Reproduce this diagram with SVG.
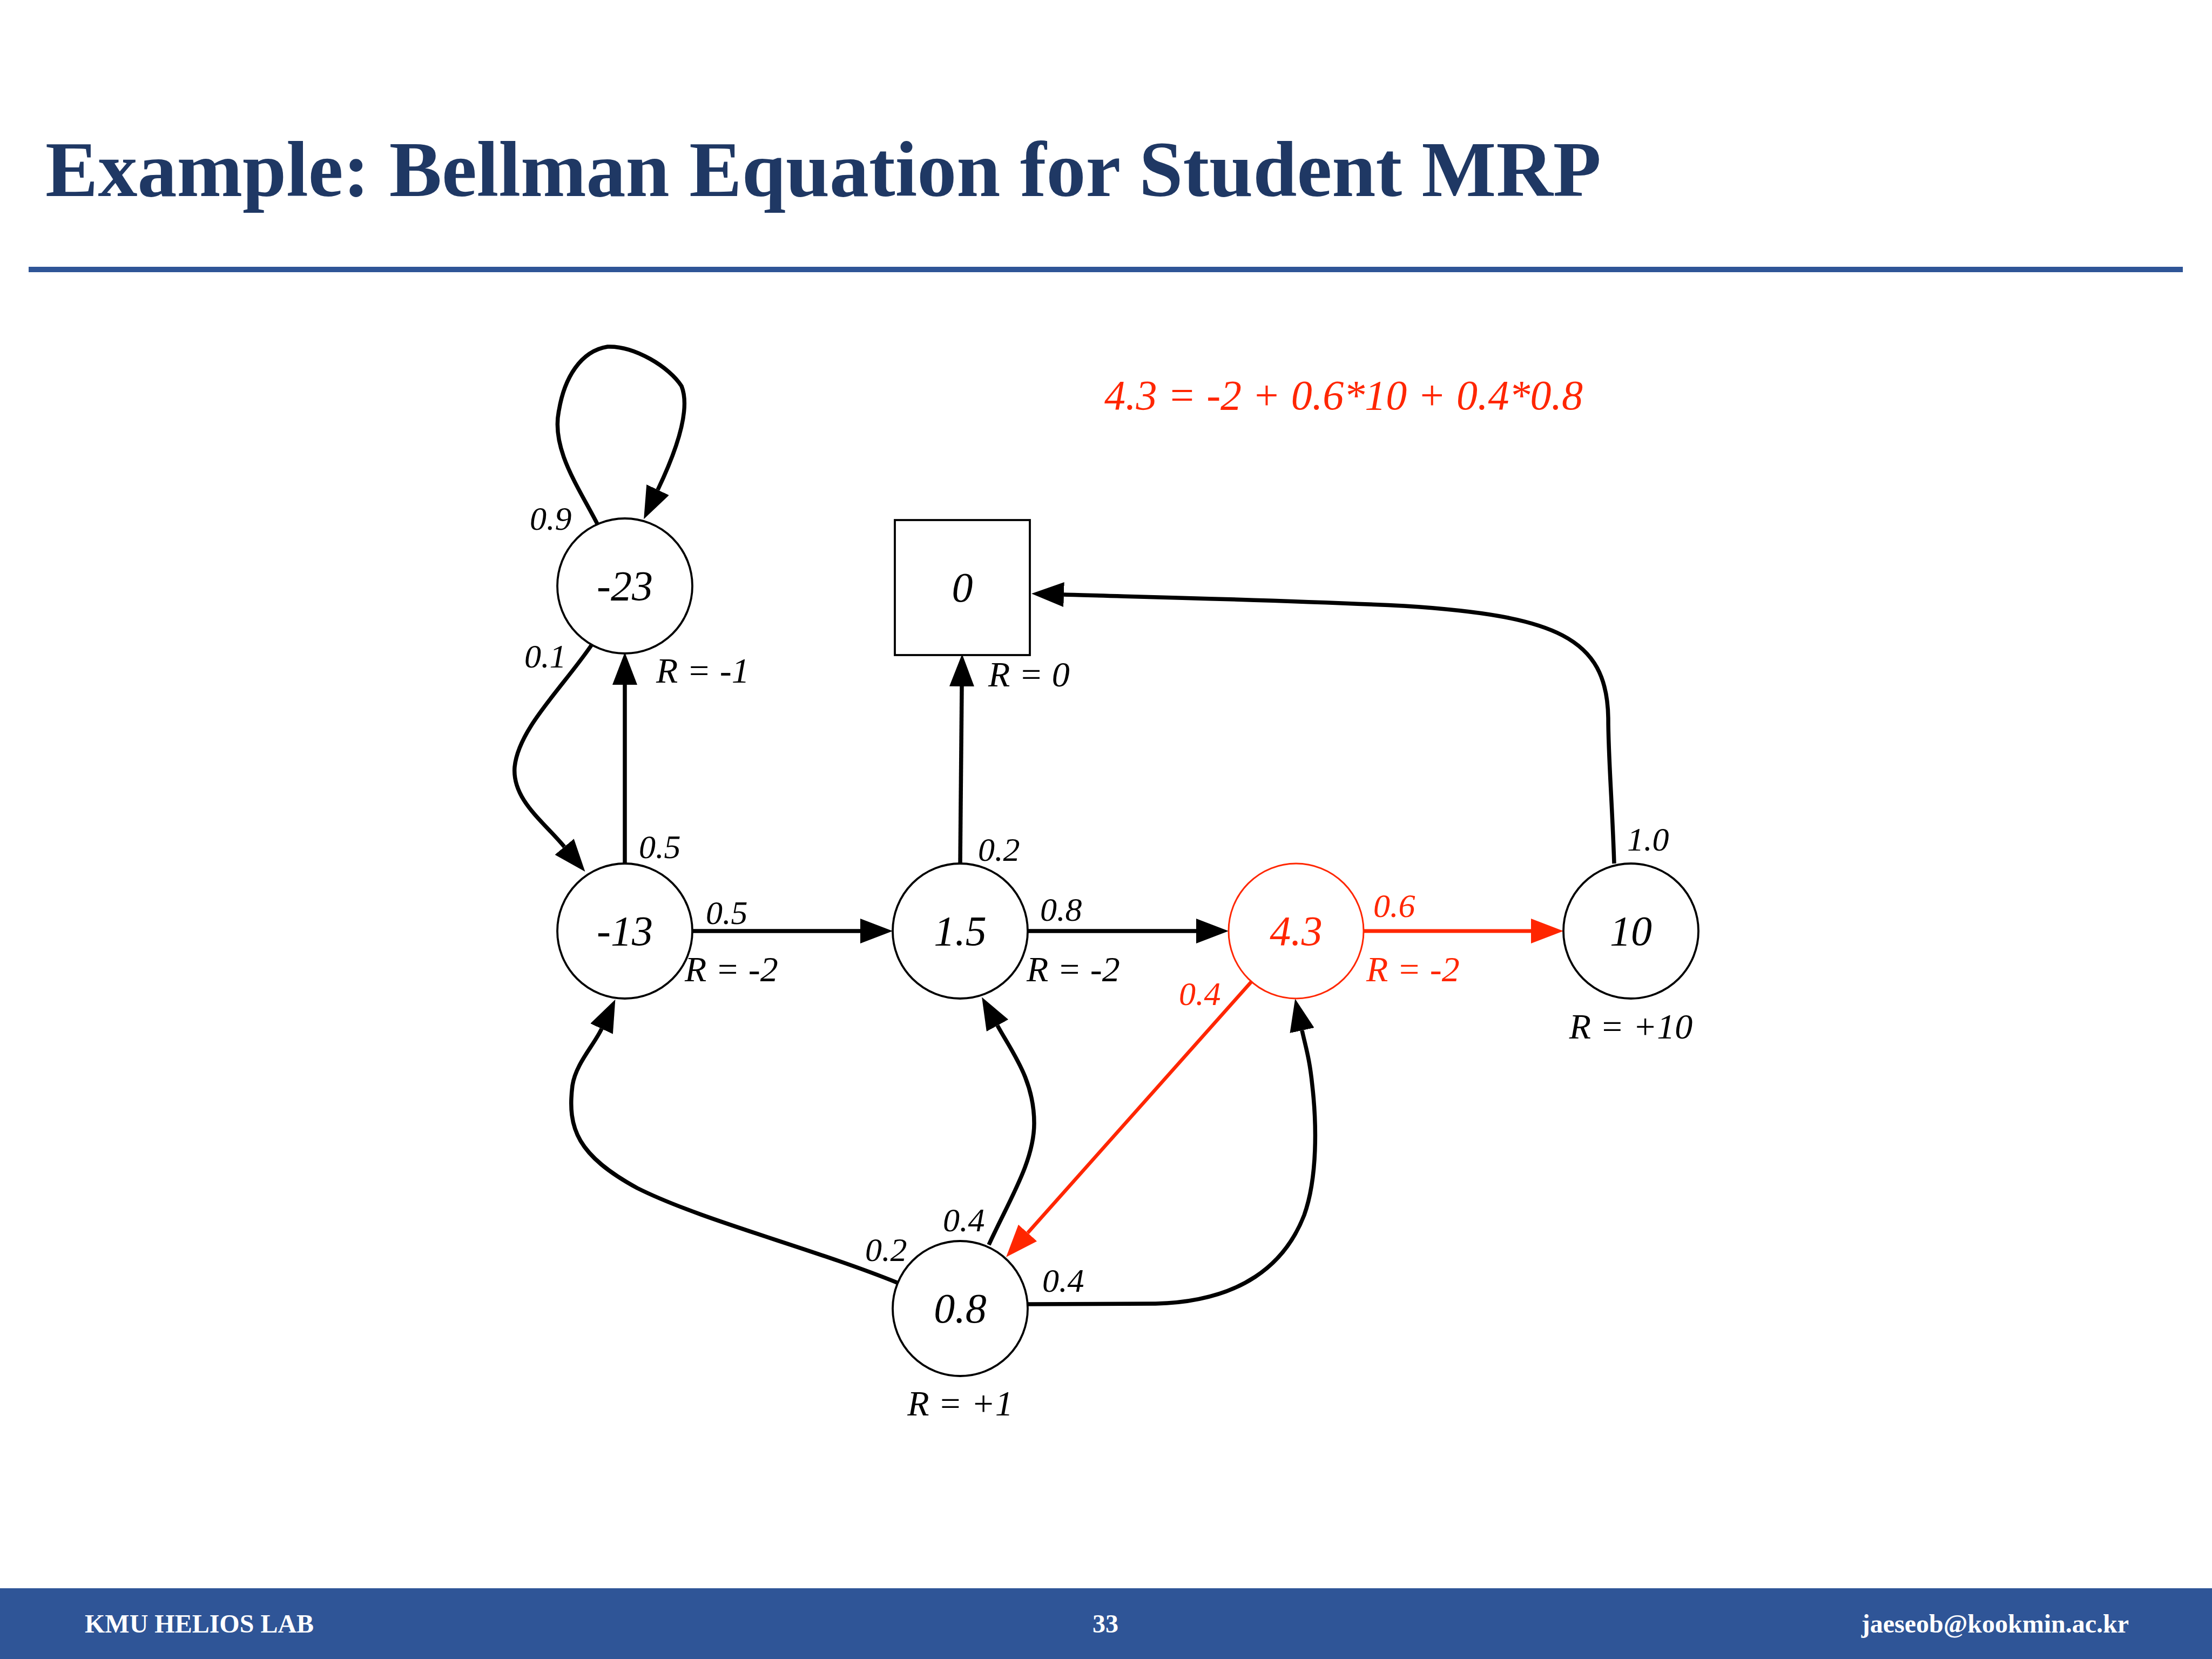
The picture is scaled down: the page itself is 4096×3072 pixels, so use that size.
<svg xmlns="http://www.w3.org/2000/svg" width="4096" height="3072" viewBox="0 0 4096 3072">
<style>
.node{fill:#fff;stroke:#000;stroke-width:3.8}
.red .node{stroke:#ff2600;stroke-width:3}
.nl{font-family:"Liberation Serif","Times New Roman",serif;font-style:italic;font-size:78px;text-anchor:middle;fill:#000}
.el{font-family:"Liberation Serif","Times New Roman",serif;font-style:italic;font-size:62px;fill:#000}
.rl{font-family:"Liberation Serif","Times New Roman",serif;font-style:italic;font-size:66px;fill:#000}
.r{fill:#ff2600}
.e{fill:none;stroke:#000;stroke-width:7.5;marker-end:url(#ah)}
.er{fill:none;stroke:#ff2600;stroke-width:7;marker-end:url(#ahr)}
.foot{font-family:"Liberation Serif","Times New Roman",serif;font-weight:bold;font-size:48px;fill:#fff}
</style>
<defs>
<marker id="ah" markerUnits="userSpaceOnUse" viewBox="0 0 60 46" markerWidth="60" markerHeight="46" refX="0" refY="23" orient="auto"><path d="M0,0 L60,23 L0,46 Z" fill="#000"/></marker>
<marker id="ahr" markerUnits="userSpaceOnUse" viewBox="0 0 60 46" markerWidth="60" markerHeight="46" refX="0" refY="23" orient="auto"><path d="M0,0 L60,23 L0,46 Z" fill="#ff2600"/></marker>
</defs>
<rect width="4096" height="3072" fill="#fff"/>
<text x="84" y="363" font-family="'Liberation Serif','Times New Roman',serif" font-weight="bold" font-size="146" fill="#1f3864">Example: Bellman Equation for Student MRP</text>
<rect x="53" y="494" width="3989" height="10" fill="#2f5597"/>

<g id="connectors">
<path class="e" d="M1106,970 C1070,900 1020,830 1035,760 C1045,700 1075,650 1125,642 C1175,640 1240,680 1262,715 C1280,760 1250,840 1218,907"/>
<path class="e" d="M1095,1195 C1040,1275 960,1350 953,1420 C948,1480 1005,1520 1045,1568"/>
<path class="e" d="M1157,1599 L1157,1268"/>
<path class="e" d="M1282,1724 L1593,1724"/>
<path class="e" d="M1778,1599 L1781,1271"/>
<path class="e" d="M1903,1724 L2215,1724"/>
<path class="er" d="M2525,1724 L2835,1724"/>
<path class="e" d="M2989,1599 C2985,1480 2978,1400 2978,1330 C2976,1180 2880,1140 2600,1122 C2350,1110 2100,1105 1970,1101"/>
<path class="er" style="stroke-width:6.5" d="M2318,1817 L1903,2283"/>
<path class="e" d="M1661,2375 C1500,2310 1300,2260 1180,2200 C1070,2140 1050,2090 1060,2010 C1066,1970 1100,1935 1114,1905"/>
<path class="e" d="M1831,2305 C1870,2220 1915,2150 1915,2080 C1915,2000 1875,1950 1847,1899"/>
<path class="e" d="M1903,2415 L2140,2414 C2300,2410 2380,2340 2415,2250 C2440,2180 2438,2080 2430,2010 C2425,1960 2418,1940 2411,1908"/>
<text class="el" x="981" y="981">0.9</text>
<text class="el" x="971" y="1236">0.1</text>
<text class="el" x="1183" y="1589">0.5</text>
<text class="el" x="1307" y="1711">0.5</text>
<text class="el" x="1811" y="1594">0.2</text>
<text class="el" x="1926" y="1705">0.8</text>
<text class="el r" x="2543" y="1698">0.6</text>
<text class="el r" x="2183" y="1861">0.4</text>
<text class="el" x="3013" y="1575">1.0</text>
<text class="el" x="1746" y="2280">0.4</text>
<text class="el" x="1602" y="2335">0.2</text>
<text class="el" x="1930" y="2392">0.4</text>
</g>

<g id="n-23">
<circle class="node" cx="1157" cy="1085" r="125"/>
<text class="nl" x="1157" y="1111">-23</text>
<text class="rl" x="1215" y="1264">R = -1</text>
</g>
<g id="n0">
<rect class="node" x="1657" y="963" width="250" height="250"/>
<text class="nl" x="1782" y="1114">0</text>
<text class="rl" x="1830" y="1271">R = 0</text>
</g>
<g id="n-13">
<circle class="node" cx="1157" cy="1724" r="125"/>
<text class="nl" x="1157" y="1750">-13</text>
<text class="rl" x="1268" y="1817">R = -2</text>
</g>
<g id="n1_5">
<circle class="node" cx="1778" cy="1724" r="125"/>
<text class="nl" x="1778" y="1750">1.5</text>
<text class="rl" x="1901" y="1817">R = -2</text>
</g>
<g id="n4_3" class="red">
<circle class="node" cx="2400" cy="1724" r="125"/>
<text class="nl r" x="2400" y="1750">4.3</text>
<text class="rl r" x="2530" y="1817">R = -2</text>
</g>
<g id="n10">
<circle class="node" cx="3020" cy="1724" r="125"/>
<text class="nl" x="3020" y="1750">10</text>
<text class="rl" x="3020" y="1923" text-anchor="middle">R = +10</text>
</g>
<g id="n0_8">
<circle class="node" cx="1778" cy="2423" r="125"/>
<text class="nl" x="1778" y="2449">0.8</text>
<text class="rl" x="1778" y="2621" text-anchor="middle">R = +1</text>
</g>

<text x="2045" y="758" font-family="'Liberation Serif','Times New Roman',serif" font-style="italic" font-size="78" fill="#ff2600">4.3 = -2 + 0.6*10 + 0.4*0.8</text>

<rect x="0" y="2941" width="4096" height="131" fill="#2f5597"/>
<text class="foot" x="157" y="3023">KMU HELIOS LAB</text>
<text class="foot" x="2047" y="3023" text-anchor="middle">33</text>
<text class="foot" x="3942" y="3023" text-anchor="end">jaeseob@kookmin.ac.kr</text>
</svg>
